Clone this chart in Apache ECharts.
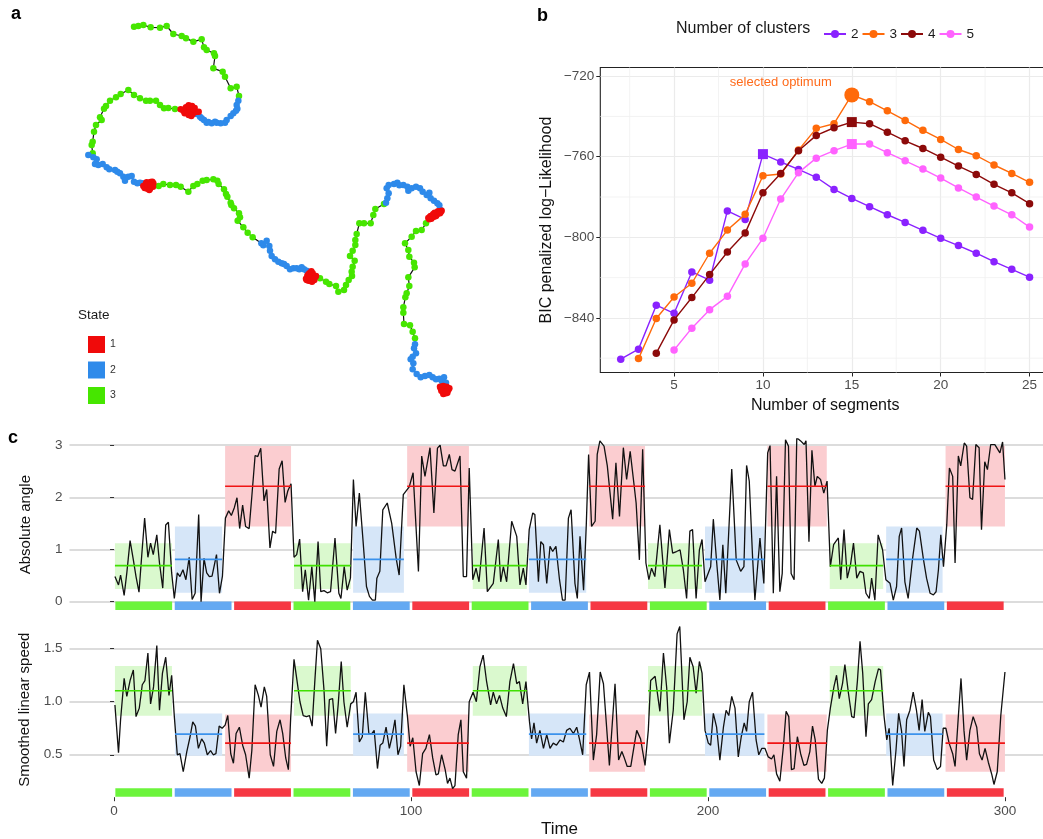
<!DOCTYPE html>
<html><head><meta charset="utf-8">
<script src="https://cdn.jsdelivr.net/npm/echarts@6/dist/echarts.min.js"></script>
<style>html,body{margin:0;padding:0;background:#fff;overflow:hidden}#c{width:1043px;height:839px}</style>
</head><body><div id="c"></div>
<script>
// ---------------- Panel a: trajectory (arbitrary position units), one array per segment ----------------
const trackSegments = [
 [[222,50],[235,48],[250,45],[272,52],[300,53],[320,48],[340,72],[365,78],[378,85],[400,95],[425,88],[432,112],[440,120],[462,130],[465,138],[460,175],[488,185],[495,200],[512,235],[530,230],[537,258]],
 [[535,272],[530,285],[532,296],[528,302],[520,310],[512,318],[500,330],[495,338],[482,340],[470,338],[465,335],[455,340],[445,336],[440,338],[432,330],[425,325],[420,320],[410,312],[405,305],[398,302]],
 [[378,292],[386,286],[396,288],[404,294],[380,302],[392,302],[402,300],[374,310],[386,315],[398,312],[408,306],[376,296],[390,294],[400,297],[384,308],[394,318],[416,305],[370,302],[388,290],[362,298]],
 [[345,297],[325,294],[312,295],[300,285],[288,272],[270,272],[258,272],[240,265],[222,255],[205,240],[182,252],[168,262],[150,272],[138,288],[132,296],[120,322],[125,330],[108,345],[102,365],[98,395],[95,405],[98,430]],
 [[85,435],[100,442],[110,448],[105,462],[115,465],[128,462],[140,472],[148,478],[165,480],[172,485],[180,490],[190,500],[195,512],[205,500],[215,498],[222,515],[232,520],[240,518],[248,520],[252,522]],
 [[258,520],[262,530],[266,522],[272,516],[276,528],[262,536],[270,536],[256,526],[268,527],[280,520],[250,528],[273,521],[260,517],[265,531],[277,515],[254,534],[268,540],[279,530],[262,524],[271,525]],
 [[296,528],[310,522],[330,525],[348,525],[362,530],[385,545],[400,528],[412,522],[428,512],[440,510],[460,508],[472,512],[476,522],[492,538],[498,552],[502,560],[512,578],[514,585],[522,595],[537,610],[540,622],[533,632],[550,652],[563,668],[578,682]],
 [[604,700],[610,706],[620,692],[628,708],[630,722],[635,738],[645,748],[655,755],[665,760],[672,762],[680,768],[690,778],[700,775],[710,775],[718,778],[725,772],[732,778],[740,782],[746,786],[750,790]],
 [[742,798],[748,790],[758,790],[766,800],[746,812],[756,815],[763,810],[738,806],[750,805],[760,804],[744,794],[754,784],[768,798],[740,810],[752,812],[758,796],[748,802],[762,806]],
 [[760,802],[780,805],[798,815],[808,822],[828,828],[835,845],[852,840],[858,825],[866,810],[876,798],[875,785],[878,770],[884,752],[870,738],[878,722],[886,705],[886,690],[890,672],[898,640],[912,640],[932,640],[940,615],[946,597],[972,582]],
 [[978,578],[982,565],[986,550],[980,535],[986,525],[1002,522],[1012,518],[1018,526],[1030,525],[1042,530],[1045,542],[1055,535],[1068,530],[1080,535],[1088,545],[1100,555],[1108,548],[1112,565],[1122,572],[1132,580],[1138,586],[1142,600]],
 [[1138,605],[1145,602],[1132,608],[1126,612],[1118,616],[1110,620],[1105,624],[1114,626],[1122,620],[1130,614],[1136,610],[1142,606],[1128,618],[1120,612],[1112,618],[1134,604],[1124,608],[1116,622],[1140,610],[1108,628]],
 [[1098,640],[1085,660],[1068,663],[1055,680],[1035,700],[1045,720],[1048,740],[1062,758],[1064,772],[1045,802],[1048,828],[1040,850],[1036,862],[1030,892],[1030,908],[1032,942],[1050,946],[1058,965],[1065,985]],
 [[1065,1003],[1062,1015],[1068,1030],[1058,1040],[1052,1048],[1060,1060],[1058,1078],[1070,1092],[1082,1102],[1095,1098],[1108,1095],[1118,1102],[1128,1108],[1138,1106],[1145,1112],[1152,1102],[1158,1118],[1148,1125]],
 [[1140,1130],[1150,1128],[1160,1130],[1165,1140],[1148,1145],[1158,1150],[1145,1138],[1155,1138],[1162,1148],[1150,1152],[1142,1135],[1168,1135],[1152,1142],[1160,1142],[1146,1130],[1156,1132],[1162,1136],[1152,1148],[1144,1142],[1158,1145]]
];
const segmentState = [3,2,1,3,2,1,3,2,1,3,2,1,3,2,1];
const stateNames = ['1','2','3'];

// ---------------- Panel b: BIC ----------------
const nSegments = [2,3,4,5,6,7,8,9,10,11,12,13,14,15,16,17,18,19,20,21,22,23,24,25];
const bic2 = [-860.5,-855.5,-833.7,-837.7,-817.2,-821.3,-786.9,-791.1,-758.7,-762.6,-766.3,-770.2,-776.2,-780.7,-784.8,-788.8,-792.6,-796.5,-800.5,-804.1,-807.9,-812.1,-815.9,-819.8];
const bic3 = [null,-860.2,-840.3,-829.6,-822.8,-807.9,-796.4,-788.6,-769.4,-768.6,-756.7,-745.9,-743.6,-729.3,-732.7,-737.2,-742.0,-746.9,-751.4,-756.4,-759.5,-764.1,-768.3,-772.7];
const bic4 = [null,null,-857.5,-841.0,-829.9,-818.5,-807.3,-797.9,-777.9,-768.3,-757.0,-749.4,-745.6,-742.8,-743.6,-747.8,-752.1,-755.9,-760.2,-764.6,-768.8,-773.7,-777.9,-783.3];
const bic5 = [null,null,null,-855.9,-845.1,-835.9,-829.3,-813.2,-800.5,-781.0,-767.9,-760.7,-757.0,-753.7,-753.7,-758.0,-762.0,-766.1,-770.6,-775.5,-780.0,-784.5,-788.8,-794.9];
const clusterNames = ['2','3','4','5'];
const bestSegments = [10,15,15,15];
const selectedCluster = '3';
const bicXTicks = [5,10,15,20,25];
const bicXMinor = [2.5,7.5,12.5,17.5,22.5];
const bicYTicks = [-840,-800,-760,-720];
const bicYMinor = [-860,-820,-780,-740];

// ---------------- Panel c: time series ----------------
const angleReadings = [[0.3,.48],[1.5,.32],[2.2,.51],[3.4,.12],[4.3,.55],[5.4,1.17],[6.5,.8],[7.4,.48],[8.4,.18],[9.3,.87],[10.3,1.6],[11.4,.85],[12.3,1.12],[13.2,.9],[14.4,1.28],[15.3,.74],[16.4,.26],[17.4,1.47],[18.3,1.52],[19.4,.55],[20.3,.06],[21.3,.55],[22.2,.48],[23.2,.61],[24.2,.42],[25.3,.85],[26.3,.04],[27.3,.16],[28.5,1.67],[29.3,0],[30.3,.83],[31.2,.55],[32.1,.48],[33,.49],[34.5,.9],[35.5,.16],[36.5,.49],[37.5,1.6],[38.6,1.74],[39.5,1.65],[40.5,1.8],[41.4,1.99],[42.3,1.4],[43.3,1.85],[44.3,1.44],[45.5,1.4],[46.4,2.02],[47.5,2.8],[48.4,2.78],[49.4,2.94],[50.5,1.93],[51.4,2.15],[52.5,1.03],[53.4,1.35],[54.4,1.31],[55.6,2.54],[56.6,2.7],[57.6,1.9],[58.5,2.12],[59.6,2.26],[60.6,.85],[61.5,.9],[62.5,1.2],[63.5,.19],[64.4,.61],[65.5,.03],[66.6,.67],[67.6,0],[68.7,1.15],[69.6,.19],[70.7,.21],[71.8,.17],[72.9,.19],[74.4,1.22],[75.7,.16],[76.4,.06],[77.5,.67],[78.5,.22],[79.6,.45],[80.6,2.34],[81.5,1.44],[82.6,2.08],[83.8,1.2],[85,.29],[86,.1],[87,.03],[88,.03],[88.5,.45],[89.5,.58],[90.5,1.76],[92,1.89],[93.5,1.5],[95,.83],[96,.51],[97.4,2.05],[99.4,2.2],[100.7,2.47],[102.5,.58],[103.6,2.79],[104.7,2.4],[106.4,2.95],[107.7,1.7],[108.9,2.94],[109.8,3.0],[110.9,2.6],[111.8,2.6],[112.9,2.82],[113.8,2.53],[114.8,2.5],[116.5,2.79],[117.6,.48],[118.7,.48],[119.6,2.56],[120.8,.42],[121.9,.64],[122.9,.38],[124.6,1.41],[125.7,.19],[127.7,.35],[129.4,1.19],[130.2,.38],[131.1,.67],[132.2,.38],[133.9,1.54],[135.6,1.25],[136.7,.32],[137.8,.64],[138.7,.32],[139.8,1.38],[141,1.7],[141.7,1.67],[142.9,.38],[143.7,1.15],[144.6,1.09],[145.7,.35],[146.8,1.06],[147.7,.96],[148.8,1.06],[150,.42],[151,.03],[151.9,.03],[153,1.6],[153.9,1.76],[155.2,.35],[156,.06],[156.9,1.25],[158.1,.22],[159,1.44],[159.8,2.82],[160.8,1.44],[162,1.54],[162.7,2.82],[163.6,3.08],[165,2.98],[166.1,2.6],[167.9,1.58],[169,2.66],[170.2,1.63],[171.5,2.95],[172.6,2.34],[173.8,2.88],[175.1,2.24],[175.8,1.89],[176.9,.8],[178,2.92],[179.1,.74],[180.1,.42],[181,.64],[182.1,.48],[183.8,1.47],[185.5,.26],[187,1.38],[188.1,.93],[189.4,.96],[190.6,.99],[191.7,.61],[192.8,.06],[193.9,1.35],[194.8,1.38],[196,.06],[197.1,.99],[198,1.19],[199,.38],[200.9,.67],[201.8,1.58],[202.9,.77],[204,.03],[205,1.09],[206,.16],[208,2.54],[209.5,.8],[211,.58],[212.1,.67],[213,2.61],[213.9,2.31],[215,.87],[215.8,.03],[217.5,1.22],[218.8,.35],[220.1,2.85],[220.9,2.99],[222,.16],[223.1,2.4],[224.2,.19],[225,.54],[226.1,3.1],[227.1,2.98],[228,.54],[229,.42],[229.9,3.14],[231.2,3.08],[232.4,3.01],[233,3.08],[234,1.15],[235,2.9],[236,2.21],[236.8,2.4],[237.9,2.34],[239,2.08],[240.1,2.31],[241.2,.67],[242.3,1.09],[243.9,1.22],[244.7,.42],[245.8,1.38],[246.9,.45],[248,.71],[249,1.12],[250.1,.45],[251.2,.58],[252.3,.55],[253.2,.16],[254.3,.06],[255.1,.45],[256.2,.03],[257.3,1.28],[258.8,.99],[259.9,.42],[261.3,.35],[262.4,.03],[263.5,.29],[264.4,1.25],[265.2,1.41],[266.3,.38],[267.4,.06],[268.9,.83],[270.3,1.41],[271.2,1.35],[272.5,.83],[273.6,.45],[274.8,.16],[275.9,.13],[276.8,.19],[277.6,.61],[278.4,1.28],[279.3,.67],[280.4,1.47],[281.3,2.56],[282.4,2.4],[283.2,.74],[284.3,2.79],[285.1,2.6],[286.3,3.04],[287.1,2.98],[288.2,1.99],[289.1,1.96],[290.2,3.01],[291.3,2.95],[292.1,1.38],[293.2,2.68],[294.1,2.53],[295.2,3.01],[296.6,3.01],[297.2,3.0],[298.3,2.85],[299.2,3.06],[300,2.34]];
const speedReadings = [[0.3,.97],[1.5,.52],[2.2,.83],[3.4,1.22],[4.3,1.05],[5.4,1.2],[6.5,1.3],[7.4,.86],[8.5,.94],[9.5,1.16],[10.4,1.2],[11.4,1.46],[12.3,.98],[13.3,1.14],[14.4,1.53],[15.3,.92],[16.3,1.27],[17.4,1.42],[18.5,1.06],[19.4,1.25],[20.3,.86],[21.3,.5],[22.2,.51],[23.3,.34],[24.5,.53],[25.6,.67],[26.5,.81],[27.4,.77],[28.4,.56],[29.5,.65],[30.4,.61],[31.4,.5],[32.5,.54],[33.4,.5],[34.3,.51],[35.4,.77],[36.4,.75],[37.4,.78],[38.3,.87],[39.3,.51],[40.2,.42],[41.1,.7],[42.2,.76],[43.3,.59],[44.3,.5],[45.5,.28],[46.4,.54],[47.5,1.16],[48.6,1.06],[49.5,.95],[50.6,1.14],[51.4,1.05],[52.6,.5],[53.7,.39],[54.8,.72],[55.9,.83],[56.8,.7],[57.8,.47],[58.7,.36],[59.5,.86],[60.6,1.4],[61.5,1.22],[62.6,1.0],[63.7,.87],[64.8,.86],[65.8,.87],[66.7,.77],[67.6,1.19],[68.5,1.58],[69.6,1.5],[70.7,1.11],[71.6,.58],[72.5,1.02],[73.6,1.03],[74.6,.7],[75.5,.98],[76.5,1.38],[77.4,1.0],[78.5,.76],[79.7,.98],[80.6,1.0],[81.5,1.09],[82.6,.62],[83.6,.67],[84.6,1.09],[85.8,.7],[86.8,.7],[87.6,.73],[88.7,.37],[89.6,.59],[90.5,.61],[91.6,.76],[92.7,.56],[93.6,.67],[94.6,.83],[95.6,.5],[96.5,.58],[97.6,1.16],[98.8,.86],[99.7,.58],[100.6,.66],[101.7,.34],[102.8,.21],[103.9,.51],[105,.56],[106.2,.69],[107.3,.47],[108.4,.31],[109.2,.32],[110.3,.5],[111.5,.36],[112.3,.23],[113.1,.28],[114,.18],[114.8,.21],[115.9,.69],[116.8,.83],[117.6,.34],[118.7,.28],[119.6,1.0],[120.9,1.09],[122,1.0],[123.2,1.33],[124.3,1.44],[125.4,1.2],[126.8,.97],[127.7,1.09],[128.8,.98],[129.8,1.06],[130.9,.94],[132.1,.86],[133.3,1.19],[134.5,1.36],[135.6,1.17],[136.5,1.19],[137.6,.98],[138.7,1.19],[139.9,.81],[140.6,.65],[141.4,.8],[142.3,.61],[143.4,.73],[144.6,.56],[145.7,.69],[146.8,.56],[147.9,.61],[149,.59],[150.2,.64],[151.3,.62],[152.4,.73],[153.5,.75],[154.7,.7],[155.8,.76],[156.7,.65],[157.8,.5],[159,1.16],[160.1,1.28],[161.4,.45],[162.5,.69],[163.7,1.28],[164.8,1.17],[166.8,.4],[168.7,1.17],[169.9,.45],[171,.53],[171.7,.48],[172.8,.39],[174,.39],[175.1,.58],[176,.73],[177.3,.65],[178.8,.4],[179.9,.73],[180.7,1.2],[182.2,1.24],[183.8,.91],[185,1.46],[186.1,1.13],[187,.61],[188.3,.92],[189.6,1.64],[190.5,1.71],[191.9,.83],[193,1.0],[193.9,1.42],[195,1.33],[196,1.08],[197.1,1.38],[198,1.27],[199,.73],[200.1,.61],[200.9,.59],[201.8,.89],[202.9,.76],[204,.45],[205.2,.76],[206.1,.92],[207,.87],[208,1.05],[209.1,.94],[210.2,.48],[211.2,.67],[212.2,.8],[213,.72],[213.9,1.0],[215,1.09],[216.2,.64],[217.1,.5],[218.1,.56],[219.2,.56],[220.3,.48],[221.4,.46],[222.2,.5],[223.1,.32],[224.2,.25],[225.4,.58],[226.3,.91],[227.2,.86],[228.1,.36],[229,.37],[230.1,.67],[231.2,.51],[232.3,.4],[233.2,.41],[234.3,.53],[235.2,.77],[236.1,.64],[237.2,.27],[238.3,.23],[239.2,.28],[240.2,.73],[241.2,.94],[242.4,1.14],[243.3,1.25],[244.2,1.03],[245.3,1.17],[246.1,1.35],[247.3,1.08],[248.4,.86],[249.2,.85],[250.3,1.19],[251.2,1.57],[252.1,1.27],[253.2,.67],[254,.98],[255.1,1.02],[256.3,1.19],[257.4,1.31],[258.1,1.3],[259.3,.86],[260.2,.64],[261,.75],[262.2,.21],[263.3,.54],[264.2,.89],[265.2,.72],[266,.39],[266.9,.83],[268,.92],[269.1,1.09],[270.2,.92],[271.1,.73],[272.1,1.02],[273,.72],[274.2,.9],[274.9,.86],[276,.45],[277.2,.36],[278.3,.39],[279.2,.75],[280.1,.75],[281.2,.61],[282.4,.51],[283.2,.39],[284.3,.86],[285.2,1.22],[286.2,.73],[287.1,.45],[288.2,.73],[289.3,.86],[290.5,.76],[291.4,.51],[292.3,.45],[293.3,.56],[294.4,.43],[295.6,.31],[296.3,.22],[297.4,.34],[298.6,.87],[300,1.28]];
// fitted segment boundaries (time) and state of each segment
const boxStart = [0.3,20.5,37.4,60.6,80.5,98.7,120.8,139.7,160,179.8,199,220,241,260,280];
const boxEnd   = [19.5,36.4,59.6,79.7,97.6,119.5,139,159,178.8,198,219,240,259,279,300];
const stateBarStart = [0,20,40,60,80,100,120,140,160,180,200,220,240,260,280];
const stateBarEnd   = [20,40,60,80,100,120,140,160,180,200,220,240,260,280,300];
// per-state (1,2,3) mean and band
const angleStateMean = [2.21,0.81,0.69];
const angleStateLow  = [1.44,0.17,0.24];
const angleStateHigh = [2.98,1.44,1.12];
const speedStateMean = [0.61,0.695,1.104];
const speedStateLow  = [0.34,0.49,0.868];
const speedStateHigh = [0.88,0.89,1.337];
const timeTicks = [0,100,200,300];
const angleTicks = [0,1,2,3];
const speedTicks = [0.5,1.0,1.5];

// ---------------- styling ----------------
const FONT = '"Liberation Sans", Arial, sans-serif';
const stateColor = ['#F00A0A','#2E8AEA','#46E600'];
const stateBarColor = ['#F63843','#64A9F2','#6CF43C'];
const stateBoxColor = ['#FBCDD0','#D6E6F8','#DAF9CE'];
const stateMeanColor = ['#F01414','#3B92EC','#3FE000'];
const clusterColors = ['#8A22FF','#FF6A0A','#8C0A0A','#FF62FF'];
const ANGLE_MIN = -0.17, ANGLE_MAX = 3.12, SPEED_MIN = 0.1, SPEED_MAX = 1.75;
const BIC_YMIN = -867.1, BIC_YMAX = -715.7, BIC_XMIN = 0.85, BIC_XMAX = 26.15;

const minus = v => String(v).replace('-', '\u2212');

// ---------------- build ----------------
const pathData = [];
trackSegments.forEach(seg => seg.forEach(p => pathData.push(p)));
const statePoints = [[],[],[]];
trackSegments.forEach((seg, i) => seg.forEach(p => statePoints[segmentState[i]-1].push(p)));

const boxData = boxStart.map((s, i) => [s, boxEnd[i], segmentState[i]]);
const barData = stateBarStart.map((s, i) => [s, stateBarEnd[i], segmentState[i]]);

function boxRenderer(low, high) {
  return function (params, api) {
    const st = api.value(2) - 1;
    const a = api.coord([api.value(0), high[st]]);
    const b = api.coord([api.value(1), low[st]]);
    return {type:'rect', shape:{x:a[0], y:a[1], width:b[0]-a[0], height:b[1]-a[1]}, style:{fill:stateBoxColor[st]}};
  };
}
function meanRenderer(mean) {
  return function (params, api) {
    const st = api.value(2) - 1;
    const a = api.coord([api.value(0), mean[st]]);
    const b = api.coord([api.value(1), mean[st]]);
    return {type:'line', shape:{x1:a[0], y1:a[1], x2:b[0], y2:b[1]}, style:{stroke:stateMeanColor[st], lineWidth:1.6}};
  };
}
function barRenderer(yMin) {
  return function (params, api) {
    const st = api.value(2) - 1;
    const a = api.coord([api.value(0), yMin]);
    const b = api.coord([api.value(1), yMin]);
    return {type:'rect', shape:{x:a[0]+1.3, y:a[1]-9, width:b[0]-a[0]-2.6, height:8.5}, style:{fill:stateBarColor[st]}};
  };
}
function vLineRenderer(y0, y1, color, w) {
  return function (params, api) {
    const a = api.coord([api.value(0), y0]);
    const b = api.coord([api.value(0), y1]);
    return {type:'line', shape:{x1:a[0], y1:a[1], x2:b[0], y2:b[1]}, style:{stroke:color, lineWidth:w}};
  };
}
function hLineRenderer(x0, x1, color, w) {
  return function (params, api) {
    const a = api.coord([x0, api.value(0)]);
    const b = api.coord([x1, api.value(0)]);
    return {type:'line', shape:{x1:a[0], y1:a[1], x2:b[0], y2:b[1]}, style:{stroke:color, lineWidth:w}};
  };
}

const bicArrays = [bic2, bic3, bic4, bic5];
const bicSeries = bicArrays.map((arr, i) => {
  const data = [];
  nSegments.forEach((x, j) => {
    if (arr[j] == null) return;
    if (x === bestSegments[i]) {
      const sel = clusterNames[i] === selectedCluster;
      data.push({value:[x, arr[j]], symbol: sel ? 'circle' : 'rect', symbolSize: sel ? 15 : 10});
    } else data.push([x, arr[j]]);
  });
  const s = {
    type:'line', name:'k' + clusterNames[i], xAxisIndex:1, yAxisIndex:1, data,
    symbol:'circle', symbolSize:7.5, showAllSymbol:true,
    lineStyle:{color:clusterColors[i], width:1.4}, itemStyle:{color:clusterColors[i]},
    emphasis:{disabled:true}, z:5 + i, animation:false
  };
  if (clusterNames[i] === selectedCluster) {
    const j = nSegments.indexOf(bestSegments[i]);
    s.markPoint = {symbol:'circle', symbolSize:1, itemStyle:{color:'rgba(0,0,0,0)'}, silent:true,
      data:[{coord:[bestSegments[i], arr[j]]}],
      label:{show:true, formatter:'selected optimum', offset:[-71,-12], color:'#FF6A1A', fontSize:13, fontFamily:FONT}};
  }
  return s;
});

const axisLabelC = {color:'#4D4D4D', fontSize:13.5, fontFamily:FONT, margin:7};
const tickC = {show:true, length:4, lineStyle:{color:'#333', width:1}};

const option = {
  animation:false,
  textStyle:{fontFamily:FONT},
  grid:[
    {left:60, top:10, width:400, height:400, outerBoundsMode:'none', containLabel:false},
    {left:600.3, top:67.5, width:449.7, height:305, show:true, borderColor:'#222', borderWidth:1.1, backgroundColor:'transparent', outerBoundsMode:'none', containLabel:false},
    {left:69.5, width:980, top:438.8, height:171.7, outerBoundsMode:'none', containLabel:false},
    {left:69.5, width:980, top:622.2, height:175, outerBoundsMode:'none', containLabel:false}
  ],
  xAxis:[
    {gridIndex:0, type:'value', min:0, max:1200, show:false},
    {gridIndex:1, type:'value', min:BIC_XMIN, max:BIC_XMAX, axisLine:{show:false},
      axisTick:{show:true, customValues:bicXTicks, length:4, lineStyle:{color:'#222'}},
      axisLabel:{customValues:bicXTicks, color:'#4D4D4D', fontSize:13.5, fontFamily:FONT, margin:6},
      splitLine:{show:true, lineStyle:{color:'#EBEBEB', width:1.2}},
      name:'Number of segments', nameLocation:'middle', nameGap:25, nameTextStyle:{fontSize:16, color:'#111', fontFamily:FONT}},
    {gridIndex:2, type:'value', min:-15, max:315, show:false},
    {gridIndex:3, type:'value', min:-15, max:315, axisLine:{show:false},
      axisTick:Object.assign({customValues:timeTicks}, tickC),
      axisLabel:Object.assign({customValues:timeTicks}, axisLabelC),
      splitLine:{show:false},
      name:'Time', nameLocation:'middle', nameGap:24, nameTextStyle:{fontSize:17, color:'#111', fontFamily:FONT}}
  ],
  yAxis:[
    {gridIndex:0, type:'value', min:0, max:1200, inverse:true, show:false},
    {gridIndex:1, type:'value', min:BIC_YMIN, max:BIC_YMAX, axisLine:{show:false},
      axisTick:{show:true, customValues:bicYTicks, length:4, lineStyle:{color:'#222'}},
      axisLabel:{customValues:bicYTicks, formatter:minus, color:'#4D4D4D', fontSize:13.5, fontFamily:FONT, margin:6},
      splitLine:{show:true, lineStyle:{color:'#EBEBEB', width:1.2}},
      name:'BIC penalized log\u2212Likelihood', nameLocation:'middle', nameGap:46, nameTextStyle:{fontSize:16, color:'#111', fontFamily:FONT}},
    {gridIndex:2, type:'value', min:ANGLE_MIN, max:ANGLE_MAX, axisLine:{show:false},
      axisTick:Object.assign({customValues:angleTicks}, tickC),
      axisLabel:Object.assign({customValues:angleTicks}, axisLabelC),
      splitLine:{show:true, lineStyle:{color:'#D0D0D0', width:1.5}},
      name:'Absolute angle', nameLocation:'middle', nameGap:36, nameTextStyle:{fontSize:15, color:'#111', fontFamily:FONT}},
    {gridIndex:3, type:'value', min:SPEED_MIN, max:SPEED_MAX, axisLine:{show:false},
      axisTick:Object.assign({customValues:speedTicks}, tickC),
      axisLabel:Object.assign({customValues:speedTicks, formatter: v => v.toFixed(1)}, axisLabelC),
      splitLine:{show:true, lineStyle:{color:'#D0D0D0', width:1.5}},
      name:'Smoothed linear speed', nameLocation:'middle', nameGap:36, nameTextStyle:{fontSize:15, color:'#111', fontFamily:FONT}}
  ],
  legend:[
    {data:['k2','k3','k4','k5'], left:818, top:22, itemWidth:22, itemHeight:10, itemGap:3, selectedMode:false,
      formatter: n => n.slice(1), textStyle:{fontSize:13.5, color:'#1a1a1a', fontFamily:FONT}},
    {data:['s1','s2','s3'], orient:'vertical', left:83, top:331, itemWidth:17, itemHeight:17, itemGap:8.5, icon:'rect', selectedMode:false,
      formatter: n => n.slice(1), textStyle:{fontSize:10.5, color:'#333', fontFamily:FONT}}
  ],
  graphic:[
    {type:'text', left:11, top:5, style:{text:'a', fontSize:18, fontWeight:'bold', fill:'#000', fontFamily:FONT}},
    {type:'text', left:537, top:7, style:{text:'b', fontSize:18, fontWeight:'bold', fill:'#000', fontFamily:FONT}},
    {type:'text', left:8, top:429, style:{text:'c', fontSize:18, fontWeight:'bold', fill:'#000', fontFamily:FONT}},
    {type:'text', left:676, top:21, style:{text:'Number of clusters', fontSize:16, fill:'#1a1a1a', fontFamily:FONT}},
    {type:'text', left:78, top:308, style:{text:'State', fontSize:13.5, fill:'#1a1a1a', fontFamily:FONT}}
  ],
  series:[
    // panel a
    {type:'line', xAxisIndex:0, yAxisIndex:0, data:pathData, symbol:'none', lineStyle:{color:'#111', width:1.2}, z:2, silent:true},
    ...statePoints.map((pts, i) => ({type:'scatter', name:'s' + stateNames[i], xAxisIndex:0, yAxisIndex:0, data:pts,
      symbol:'circle', symbolSize:6.5, itemStyle:{color:stateColor[i], opacity:1}, z:5 - i, silent:true})),
    // panel b minor grid
    {type:'custom', xAxisIndex:1, yAxisIndex:1, data:bicXMinor.map(v => [v]), renderItem:vLineRenderer(BIC_YMIN, BIC_YMAX, '#F0F0F0', 0.8), z:0, silent:true, encode:{x:0}},
    {type:'custom', xAxisIndex:1, yAxisIndex:1, data:bicYMinor.map(v => [v]), renderItem:hLineRenderer(BIC_XMIN, BIC_XMAX, '#F0F0F0', 0.8), z:0, silent:true, encode:{y:0}},
    ...bicSeries,
    // panel c: angle
    {type:'custom', xAxisIndex:2, yAxisIndex:2, data:boxData, renderItem:boxRenderer(angleStateLow, angleStateHigh), z:1, silent:true, encode:{x:[0,1]}},
    {type:'custom', xAxisIndex:2, yAxisIndex:2, data:barData, renderItem:barRenderer(ANGLE_MIN), z:2, silent:true, encode:{x:[0,1]}},
    {type:'line', xAxisIndex:2, yAxisIndex:2, data:angleReadings, symbol:'none', lineStyle:{color:'#111', width:1.3}, z:3, silent:true},
    {type:'custom', xAxisIndex:2, yAxisIndex:2, data:boxData, renderItem:meanRenderer(angleStateMean), z:4, silent:true, encode:{x:[0,1]}},
    // panel c: speed
    {type:'custom', xAxisIndex:3, yAxisIndex:3, data:boxData, renderItem:boxRenderer(speedStateLow, speedStateHigh), z:1, silent:true, encode:{x:[0,1]}},
    {type:'custom', xAxisIndex:3, yAxisIndex:3, data:barData, renderItem:barRenderer(SPEED_MIN), z:2, silent:true, encode:{x:[0,1]}},
    {type:'line', xAxisIndex:3, yAxisIndex:3, data:speedReadings, symbol:'none', lineStyle:{color:'#111', width:1.3}, z:3, silent:true},
    {type:'custom', xAxisIndex:3, yAxisIndex:3, data:boxData, renderItem:meanRenderer(speedStateMean), z:4, silent:true, encode:{x:[0,1]}}
  ]
};
const chart = echarts.init(document.getElementById('c'), null, {renderer:'canvas', width:1043, height:839});
chart.setOption(option);
</script></body></html>
